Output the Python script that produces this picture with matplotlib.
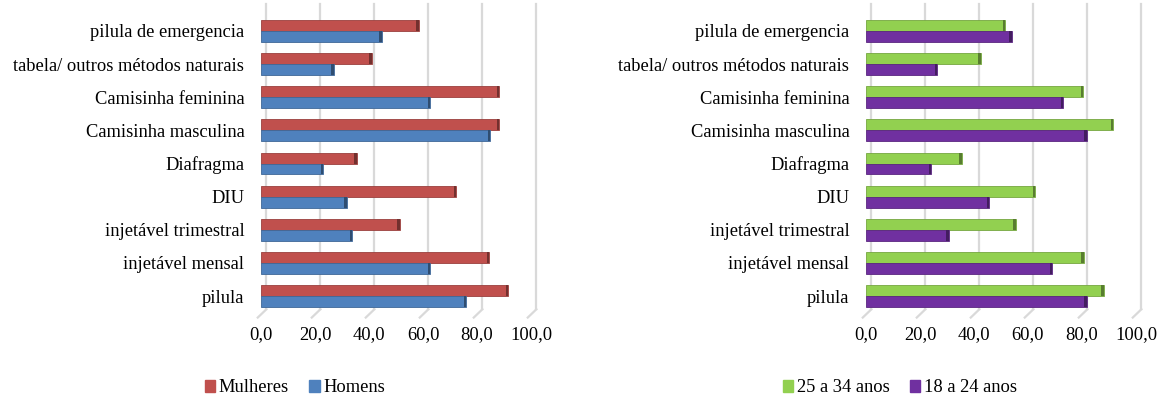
import numpy as np
import matplotlib
matplotlib.use("Agg")
import matplotlib.pyplot as plt
from matplotlib.patches import Patch

plt.rcParams['font.family'] = ['Liberation Serif', 'DejaVu Serif']

# categories, bottom to top
metodos = ['pilula', 'injetável mensal', 'injetável trimestral', 'DIU', 'Diafragma',
           'Camisinha masculina', 'Camisinha feminina',
           'tabela/ outros métodos naturais', 'pilula de emergencia']

mulheres = [91.5, 84.5, 51.3, 72.3, 35.4, 88.2, 88.2, 41.0, 58.4]
homens = [76.0, 62.7, 33.8, 31.7, 23.0, 84.8, 62.7, 27.0, 44.7]

anos_25_34 = [88.0, 80.7, 55.5, 62.7, 35.4, 91.5, 80.5, 42.5, 51.5]
anos_18_24 = [81.7, 69.0, 30.7, 45.6, 24.2, 81.7, 73.0, 26.3, 54.0]

ticks = [0, 20, 40, 60, 80, 100]
tick_labels = ['0,0', '20,0', '40,0', '60,0', '80,0', '100,0']

FS = 13.3


def darker(c, f=0.7):
    r, g, b = matplotlib.colors.to_rgb(c)
    return (r * f, g * f, b * f)


def painel(ax, top_vals, bot_vals, top_col, bot_col):
    y = np.arange(len(metodos))
    h = 0.33
    # back-wall gridlines with floor diagonals
    for t in ticks:
        ax.plot([t + 2, t + 2], [-0.4, 8.8], color='#d9d9d9', lw=1.6, zorder=0, clip_on=False)
        ax.plot([t + 2, t - 1.2], [-0.4, -0.65], color='#d9d9d9', lw=1.6, zorder=0, clip_on=False)
    ax.barh(y + h / 2, top_vals, height=h, color=top_col, edgecolor=darker(top_col, 0.8),
            linewidth=0.6, zorder=3)
    ax.barh(y - h / 2, bot_vals, height=h, color=bot_col, edgecolor=darker(bot_col, 0.8),
            linewidth=0.6, zorder=3)
    # thin darker right side for a 3D look
    ax.barh(y + h / 2, [0.9] * len(y), left=np.array(top_vals) - 0.9, height=h,
            color=darker(top_col, 0.6), linewidth=0, zorder=4)
    ax.barh(y - h / 2, [0.9] * len(y), left=np.array(bot_vals) - 0.9, height=h,
            color=darker(bot_col, 0.6), linewidth=0, zorder=4)
    ax.set_xlim(0, 105)
    ax.set_ylim(-0.5, 8.5)
    ax.set_yticks(y)
    ax.set_yticklabels(metodos, fontsize=FS)
    ax.set_xticks(ticks)
    ax.set_xticklabels(tick_labels, fontsize=FS)
    ax.tick_params(axis='x', length=0, pad=10)
    ax.tick_params(axis='y', length=0, pad=12)
    for s in ax.spines.values():
        s.set_visible(False)


fig = plt.figure(figsize=(11.59, 4.01), dpi=100)
ax1 = fig.add_axes([0.2252, 0.2205, 0.2446, 0.7435])
ax2 = fig.add_axes([0.7472, 0.2205, 0.2446, 0.7435])

red, blue = '#c0504d', '#4f81bd'
green, purple = '#92d050', '#7030a0'

painel(ax1, mulheres, homens, red, blue)
painel(ax2, anos_25_34, anos_18_24, green, purple)

fig.legend(handles=[Patch(color=red, label='Mulheres'), Patch(color=blue, label='Homens')],
           loc='center', bbox_to_anchor=(295 / 1159, 1 - 388 / 401), ncol=2, frameon=False,
           fontsize=FS, handlelength=0.55, handleheight=0.55, handletextpad=0.2,
           columnspacing=1.1)
fig.legend(handles=[Patch(color=green, label='25 a 34 anos'), Patch(color=purple, label='18 a 24 anos')],
           loc='center', bbox_to_anchor=(900 / 1159, 1 - 388 / 401), ncol=2, frameon=False,
           fontsize=FS, handlelength=0.55, handleheight=0.55, handletextpad=0.2,
           columnspacing=1.1)

fig.savefig('out.png', dpi=100)
